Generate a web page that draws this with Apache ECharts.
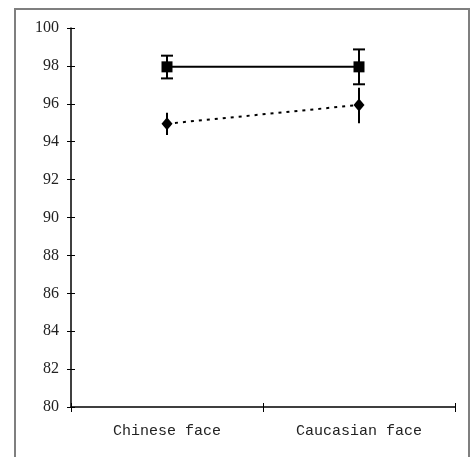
<!DOCTYPE html>
<html><head><meta charset="utf-8">
<script src="https://cdn.jsdelivr.net/npm/echarts@6/dist/echarts.min.js"></script>
<style>html,body{margin:0;padding:0;background:#fff}#c{width:472px;height:457px}</style>
</head><body><div id="c"></div>
<script>
var categories = ['Chinese face', 'Caucasian face'];
var squareValues = [97.95, 97.95];
var squareLow = [97.34, 97.03];
var squareHigh = [98.54, 98.87];
var diamondValues = [94.95, 95.94];
var diamondLow = [94.35, 94.97];
var diamondHigh = [95.53, 96.85];
var yTicks = [80, 82, 84, 86, 88, 90, 92, 94, 96, 98, 100];

function errData(low, high) {
  return categories.map(function (c, i) { return [i, low[i], high[i]]; });
}
function errRender(capW) {
  return function (params, api) {
    var x = api.value(0);
    var lo = api.coord([x, api.value(1)]);
    var hi = api.coord([x, api.value(2)]);
    var children = [{type: 'line', shape: {x1: lo[0], y1: lo[1], x2: hi[0], y2: hi[1]}, style: {stroke: '#000', lineWidth: 2}}];
    if (capW) {
      children.push({type: 'line', shape: {x1: lo[0] - capW, y1: lo[1], x2: lo[0] + capW, y2: lo[1]}, style: {stroke: '#000', lineWidth: 2}});
      children.push({type: 'line', shape: {x1: hi[0] - capW, y1: hi[1], x2: hi[0] + capW, y2: hi[1]}, style: {stroke: '#000', lineWidth: 2}});
    }
    return {type: 'group', children: children};
  };
}

var chart = echarts.init(document.getElementById('c'));
chart.setOption({
  animation: false,
  backgroundColor: '#fff',
  grid: {left: 71, right: 17, top: 28, bottom: 50},
  graphic: [{type: 'polyline', shape: {points: [[15, 460], [15, 9], [469, 9], [469, 460]]}, style: {stroke: '#7f7f7f', lineWidth: 2, fill: null}, silent: true}],
  xAxis: [{
    type: 'category', data: categories, boundaryGap: true,
    axisLine: {lineStyle: {color: '#000', width: 1.5}},
    axisTick: {show: true, length: 5, inside: false, lineStyle: {color: '#000'}},
    axisLabel: {fontFamily: 'Liberation Mono', fontSize: 15, color: '#222', margin: 17}
  }, {
    type: 'category', data: categories, boundaryGap: true, position: 'bottom',
    axisLine: {show: false},
    axisTick: {show: true, length: 4, inside: true, lineStyle: {color: '#000'}},
    axisLabel: {show: false}
  }],
  yAxis: [{
    type: 'value', min: 80, max: 100, interval: 2,
    axisLine: {show: true, lineStyle: {color: '#000', width: 1.5}},
    axisTick: {show: true, length: 4, inside: false, lineStyle: {color: '#000'}},
    splitLine: {show: false},
    axisLabel: {fontFamily: 'Liberation Serif', fontSize: 16, color: '#222', margin: 12,
      formatter: function (v) { return yTicks.indexOf(v) >= 0 ? String(v) : ''; }}
  }, {
    type: 'value', min: 80, max: 100, interval: 2, position: 'left',
    axisLine: {show: false},
    axisTick: {show: true, length: 4, inside: true, lineStyle: {color: '#000'}},
    splitLine: {show: false}, axisLabel: {show: false}
  }],
  series: [
    {type: 'line', data: squareValues, symbol: 'rect', symbolSize: 11,
      lineStyle: {color: '#000', width: 2}, itemStyle: {color: '#000'}, z: 3},
    {type: 'line', data: diamondValues, symbol: 'diamond', symbolSize: [11, 13],
      lineStyle: {color: '#000', width: 2, type: [3, 5]}, itemStyle: {color: '#000'}, z: 3},
    {type: 'custom', data: errData(squareLow, squareHigh), renderItem: errRender(6), z: 2},
    {type: 'custom', data: errData(diamondLow, diamondHigh), renderItem: errRender(0), z: 1}
  ]
});
</script></body></html>
